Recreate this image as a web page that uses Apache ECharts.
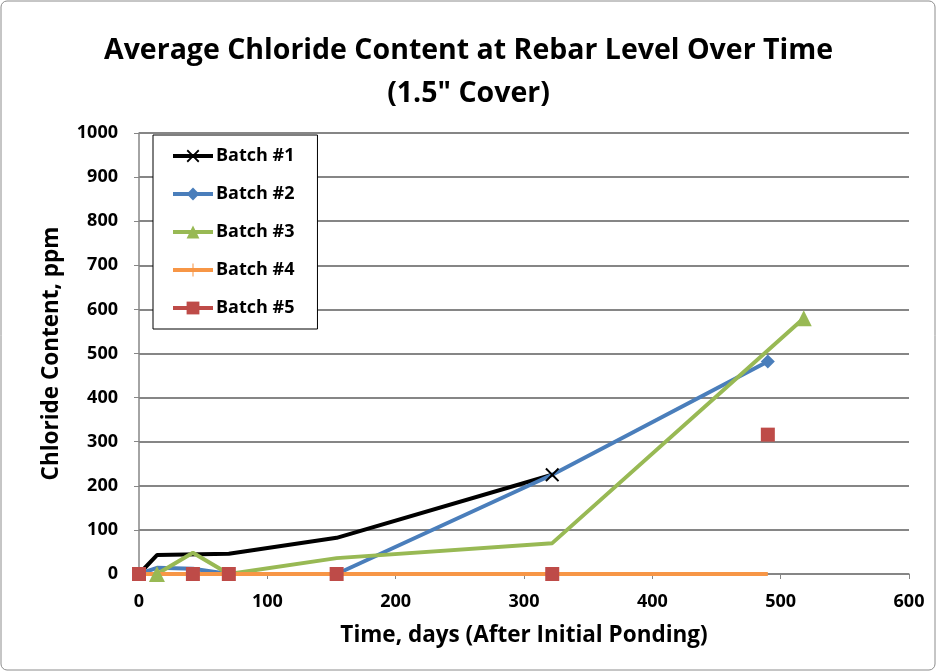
<!DOCTYPE html>
<html>
<head>
<meta charset="utf-8">
<script src="https://cdn.jsdelivr.net/npm/echarts@6/dist/echarts.min.js"></script>
<style>
  html, body { margin: 0; padding: 0; background: #fff; }
  #chart { width: 937px; height: 672px; }
</style>
</head>
<body>
<div id="chart"></div>
<script>
// values: [day, ppm]
const batch1 = [[0, 0], [14, 43], [70, 46], [154, 82], [322, 225]];
const batch2 = [[0, 0], [14, 14], [42, 12], [70, 0], [154, 0], [322, 225], [490, 482]];
const batch3 = [[14, 0], [42, 48], [70, 0], [154, 36], [322, 70], [518, 580]];
const batch4 = [[0, 0], [14, 0], [42, 0], [70, 0], [154, 0], [322, 0], [490, 0]];
const batch5 = [[0, 0], [42, 0], [70, 0], [154, 0], [322, 0], [490, 316]];

const seriesNames = ['Batch #1', 'Batch #2', 'Batch #3', 'Batch #4', 'Batch #5'];
const colors = ['#000000', '#4a7ebb', '#98b954', '#f79646', '#be4b48'];

const xSym = 'path://M0,1L1,0L5,4L9,0L10,1L6,5L10,9L9,10L5,6L1,10L0,9L4,5Z';
const plusSym = 'path://M4.6,0H5.4V4.6H10V5.4H5.4V10H4.6V5.4H0V4.6H4.6Z';

// markers only where the picture shows them
function marks(data, shown) {
  return data.map((p, i) => shown.includes(i) ? { value: p } : { value: p, symbol: 'none' });
}

const font = '"Open Sans", "Noto Sans", sans-serif';
const chart = echarts.init(document.getElementById('chart'));

chart.setOption({
  animation: false,
  textStyle: { fontFamily: font },
  title: {
    text: 'Average Chloride Content at Rebar Level Over Time\n(1.5" Cover)',
    left: 'center',
    top: 24,
    textStyle: { fontSize: 28.5, fontWeight: 'bold', color: '#000', lineHeight: 43, fontFamily: font }
  },
  graphic: [{
    type: 'rect',
    shape: { x: 1, y: 1, width: 934, height: 669, r: 6 },
    style: { fill: 'none', stroke: '#8c8c8c', lineWidth: 1 },
    silent: true
  }],
  legend: {
    orient: 'vertical',
    left: 153,
    top: 135,
    padding: [12, 23, 12, 18],
    itemGap: 20,
    itemWidth: 40,
    itemHeight: 16,
    backgroundColor: '#fff',
    borderColor: '#000',
    borderWidth: 1,
    lineStyle: { width: 4 },
    textStyle: { fontSize: 18, fontWeight: 'bold', color: '#000', fontFamily: font, padding: [0, 0, 0, -2] },
    data: [
      { name: seriesNames[0] },
      { name: seriesNames[1] },
      { name: seriesNames[2] },
      { name: seriesNames[3] },
      { name: seriesNames[4], lineStyle: { width: 4, color: colors[4], opacity: 1 } }
    ]
  },
  grid: { left: 139, right: 28, top: 133, bottom: 98 },
  xAxis: {
    type: 'value',
    min: 0,
    max: 600,
    interval: 100,
    name: 'Time, days (After Initial Ponding)',
    nameLocation: 'middle',
    nameGap: 50,
    nameTextStyle: { fontSize: 22.5, fontWeight: 'bold', color: '#000', fontFamily: font },
    axisLine: { lineStyle: { color: '#868686', width: 1.5 } },
    axisTick: { show: true, length: 5, lineStyle: { color: '#868686' } },
    axisLabel: { fontSize: 18, fontWeight: 'bold', color: '#000', margin: 19, fontFamily: font },
    splitLine: { show: false }
  },
  yAxis: {
    type: 'value',
    min: 0,
    max: 1000,
    interval: 100,
    name: 'Chloride Content, ppm',
    nameLocation: 'middle',
    nameGap: 76,
    nameTextStyle: { fontSize: 22.5, fontWeight: 'bold', color: '#000', fontFamily: font },
    axisLine: { show: true, lineStyle: { color: '#868686', width: 1.5 } },
    axisTick: { show: true, length: 5, lineStyle: { color: '#868686' } },
    axisLabel: { fontSize: 18, fontWeight: 'bold', color: '#000', margin: 21, fontFamily: font, formatter: v => String(v) },
    splitLine: { lineStyle: { color: '#868686', width: 2 } }
  },
  series: [
    {
      name: seriesNames[0], type: 'line', data: marks(batch1, [4]),
      color: colors[0], symbol: xSym, symbolSize: 14,
      lineStyle: { width: 4 }
    },
    {
      name: seriesNames[1], type: 'line', data: marks(batch2, [6]),
      color: colors[1], symbol: 'diamond', symbolSize: 14,
      lineStyle: { width: 4 }
    },
    {
      name: seriesNames[2], type: 'line', data: marks(batch3, [0, 5]),
      color: colors[2], symbol: 'triangle', symbolSize: 16,
      lineStyle: { width: 4 }
    },
    {
      name: seriesNames[3], type: 'line', data: marks(batch4, []),
      color: colors[3], symbol: plusSym, symbolSize: 14,
      lineStyle: { width: 4 }
    },
    {
      name: seriesNames[4], type: 'line', data: batch5,
      color: colors[4], symbol: 'rect', symbolSize: 14,
      lineStyle: { width: 0, opacity: 0 }
    }
  ]
});
</script>
</body>
</html>
